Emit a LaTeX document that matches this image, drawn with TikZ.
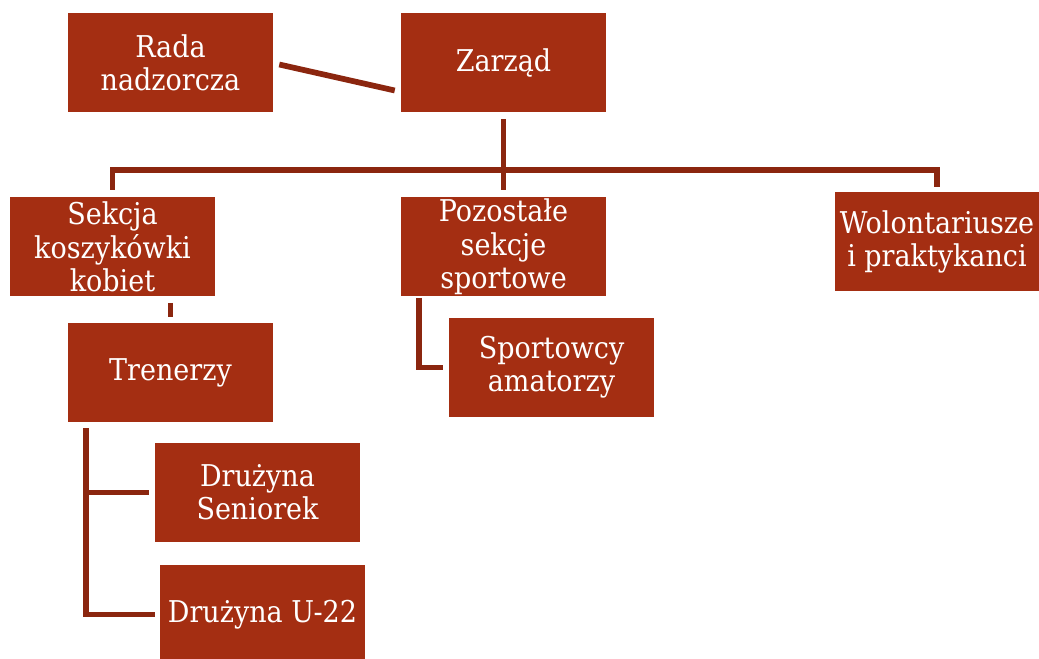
\documentclass[tikz,border=0pt]{standalone}
\usepackage{fontspec}
\setmainfont{DejaVu Serif Condensed}
\usetikzlibrary{calc}
\definecolor{boxred}{RGB}{164,46,18}
\definecolor{linered}{RGB}{139,38,15}
\tikzset{
    unit/.style={fill=boxred, text=white, minimum width=153.75pt, minimum height=74.25pt,
        inner sep=0pt, align=center, font=\fontsize{22.5}{25}\selectfont},
    link/.style={draw=linered, line width=4.3pt}
}
\begin{document}
\begin{tikzpicture}[x=0.75pt,y=-0.75pt]
        \useasboundingbox (0,0) rectangle (1039,659);

        \foreach \name/\x/\y/\txt in {rada/170.5/62.5/{Rada\\nadzorcza}, zarzad/503.5/62.5/{Zarząd},
            sekcja/112.5/247/{Sekcja\\koszykówki\\kobiet}, pozostale/503.5/247/{Pozostałe\\sekcje\\sportowe},
            wolont/937/242/{Wolontariusze\\i praktykanci}, trenerzy/170.5/372.5/{Trenerzy},
            sportowcy/551.5/367.5/{Sportowcy\\amatorzy}, seniorek/257.5/492.5/{Drużyna\\Seniorek},
            u22/262.5/614.5/{Drużyna U-22}}
        {
            \node[unit] (\name) at (\x,\y) {\txt};
        }

        \coordinate (hub) at (503.5,170);
        \draw[link] ($(rada.east)+(6,2)$) -- ($(zarzad.west)+(-6,28)$);
        \draw[link] ($(zarzad.south)+(0,7)$) -- (hub);
        \draw[link] (hub) -| ($(sekcja.north)+(0,-7)$);
        \draw[link] (hub) -- ($(pozostale.north)+(0,-7)$);
        \draw[link] (hub) -| ($(wolont.north)+(0,-5)$);
        \draw[link] ($(sekcja.south -| trenerzy.north)+(0,6)$) -- ($(trenerzy.north)+(0,-6)$);
        \draw[link] ($(trenerzy.south west)+(18,6)$) |- ($(seniorek.west)+(-6,0)$);
        \draw[link] ($(trenerzy.south west)+(18,6)$) |- ($(u22.west)+(-5,0)$);
        \draw[link] ($(pozostale.south west)+(18,1)$) |- ($(sportowcy.west)+(-6,0)$);
    \end{tikzpicture}
\end{document}
